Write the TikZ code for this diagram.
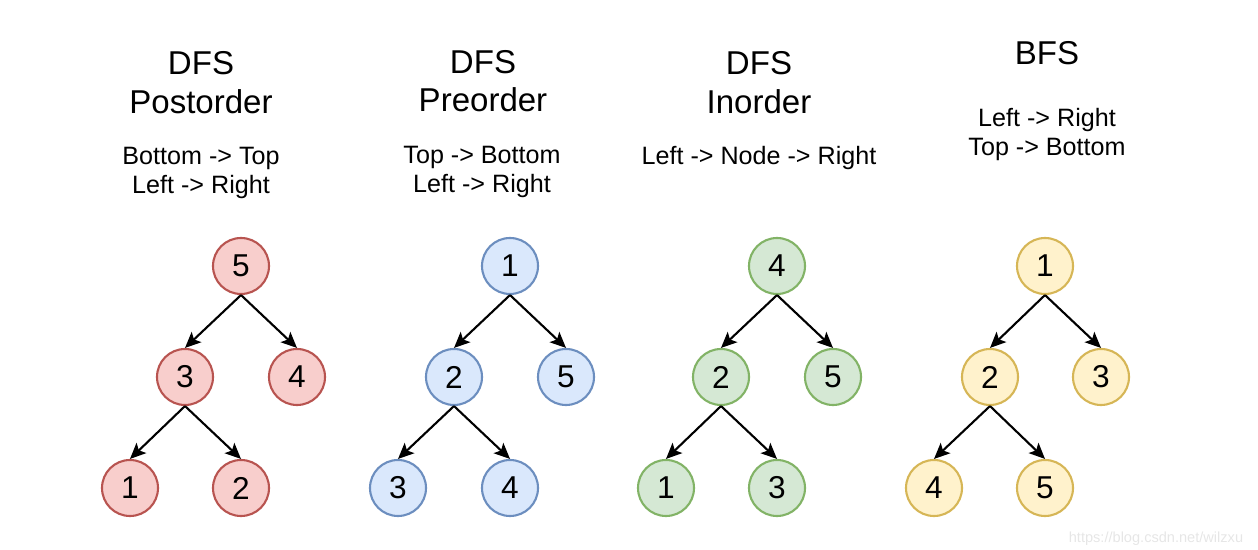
\documentclass[tikz,border=0pt]{standalone}
\usepackage{fontspec}
\setmainfont{Liberation Sans}
\usetikzlibrary{arrows.meta}
\definecolor{rfill}{HTML}{F8CECC}\definecolor{rdraw}{HTML}{B85450}
\definecolor{bfill}{HTML}{DAE8FC}\definecolor{bdraw}{HTML}{6C8EBF}
\definecolor{gfill}{HTML}{D5E8D4}\definecolor{gdraw}{HTML}{82B366}
\definecolor{yfill}{HTML}{FFF2CC}\definecolor{ydraw}{HTML}{D6B656}
\definecolor{wm}{HTML}{E6E6E6}
\tikzset{
  tnode/.style={circle, minimum size=56*0.02cm, inner sep=0pt, line width=1.2pt, font=\fontsize{18}{21}\selectfont},
  rnode/.style={tnode, fill=rfill, draw=rdraw},
  bnode/.style={tnode, fill=bfill, draw=bdraw},
  gnode/.style={tnode, fill=gfill, draw=gdraw},
  ynode/.style={tnode, fill=yfill, draw=ydraw},
  edge/.style={-{Stealth[length=9pt,width=8pt,inset=2pt]}, line width=1.2pt, shorten >=0pt},
  ttl/.style={anchor=base, inner sep=0pt, font=\fontsize{18.8}{22}\selectfont},
  sub/.style={anchor=base, inner sep=0pt, font=\fontsize{14.3}{17}\selectfont},
}
\begin{document}
\begin{tikzpicture}[x=0.02cm, y=-0.02cm]
\useasboundingbox (0,0) rectangle (1258,550);
% titles
\node[ttl] (t1a) at (201,75) {DFS};
\node[ttl] (t1b) at (201,114) {Postorder};
\node[sub] (s1a) at (201,165) {Bottom -> Top};
\node[sub] (s1b) at (201,194) {Left -> Right};
\node[ttl] (t2a) at (483,74) {DFS};
\node[ttl] (t2b) at (483,112) {Preorder};
\node[sub] (s2a) at (482,164) {Top -> Bottom};
\node[sub] (s2b) at (482,193) {Left -> Right};
\node[ttl] (t3a) at (759,75) {DFS};
\node[ttl] (t3b) at (759,114) {Inorder};
\node[sub] (s3a) at (759,165) {Left -> Node -> Right};
\node[ttl] (t4a) at (1047,65) {BFS};
\node[sub] (s4a) at (1047,127) {Left -> Right};
\node[sub] (s4b) at (1047,156) {Top -> Bottom};
% tree 1
\node[rnode] (a5) at (241,266) {5};
\node[rnode] (a3) at (185,377) {3};
\node[rnode] (a4) at (297,377) {4};
\node[rnode] (a1) at (130,488) {1};
\node[rnode] (a2) at (241,488) {2};
\draw[edge] (a5.south) -- (a3.north);
\draw[edge] (a5.south) -- (a4.north);
\draw[edge] (a3.south) -- (a1.north);
\draw[edge] (a3.south) -- (a2.north);
% tree 2
\node[bnode] (b1) at (510,266) {1};
\node[bnode] (b2) at (454,377) {2};
\node[bnode] (b5) at (566,377) {5};
\node[bnode] (b3) at (398,488) {3};
\node[bnode] (b4) at (510,488) {4};
\draw[edge] (b1.south) -- (b2.north);
\draw[edge] (b1.south) -- (b5.north);
\draw[edge] (b2.south) -- (b3.north);
\draw[edge] (b2.south) -- (b4.north);
% tree 3
\node[gnode] (c4) at (777,266) {4};
\node[gnode] (c2) at (721,377) {2};
\node[gnode] (c5) at (833,377) {5};
\node[gnode] (c1) at (666,488) {1};
\node[gnode] (c3) at (777,488) {3};
\draw[edge] (c4.south) -- (c2.north);
\draw[edge] (c4.south) -- (c5.north);
\draw[edge] (c2.south) -- (c1.north);
\draw[edge] (c2.south) -- (c3.north);
% tree 4
\node[ynode] (d1) at (1045,266) {1};
\node[ynode] (d2) at (990,377) {2};
\node[ynode] (d3) at (1101,377) {3};
\node[ynode] (d4) at (934,488) {4};
\node[ynode] (d5) at (1045,488) {5};
\draw[edge] (d1.south) -- (d2.north);
\draw[edge] (d1.south) -- (d3.north);
\draw[edge] (d2.south) -- (d4.north);
\draw[edge] (d2.south) -- (d5.north);
% watermark
\node[anchor=base, inner sep=0pt, text=wm, font=\fontsize{8.3}{10}\selectfont] (wmk) at (1156,542) {https://blog.csdn.net/wilzxu};
\end{tikzpicture}
\end{document}
